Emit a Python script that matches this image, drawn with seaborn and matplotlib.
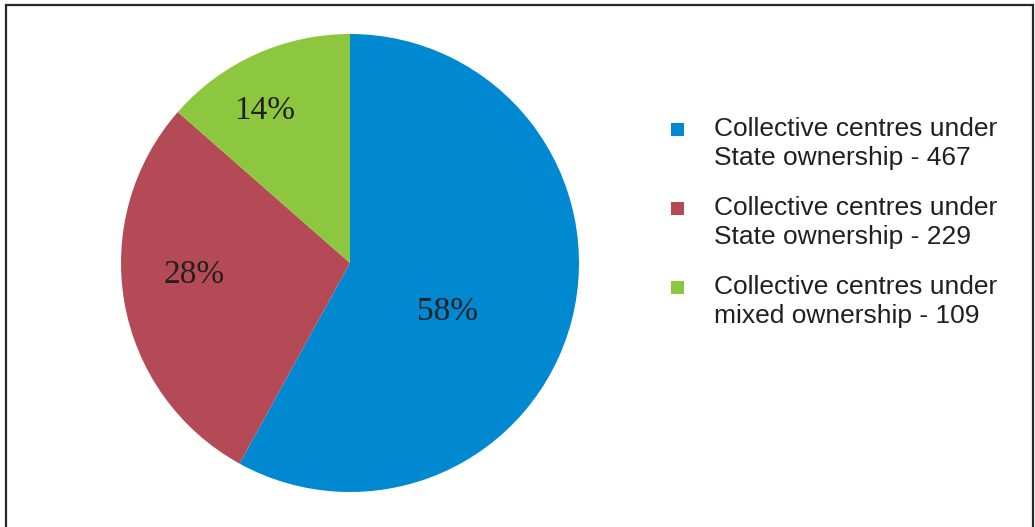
import matplotlib
matplotlib.use("Agg")
import matplotlib.pyplot as plt
from matplotlib.patches import Rectangle
import seaborn as sns

sns.set_theme(style="white")
plt.rcParams["font.family"] = ["Liberation Sans", "DejaVu Sans"]

# Collective centres by ownership type
categories = [
    "Collective centres under\nState ownership - 467",
    "Collective centres under\nState ownership - 229",
    "Collective centres under\nmixed ownership - 109",
]
counts = [467, 229, 109]
colors = ["#0088D1", "#B34A55", "#8DC63F"]

W, H = 1035, 527
fig = plt.figure(figsize=(W / 100, H / 100), dpi=100)
fig.patch.set_facecolor("white")

# pie axes: centre (350, 263) px, radius 229 px
cx, cy, r = 350, 263, 229
ax = fig.add_axes([(cx - r) / W, (H - cy - r) / H, 2 * r / W, 2 * r / H])
wedges, _, autotexts = ax.pie(
    counts,
    colors=colors,
    startangle=90,
    counterclock=False,
    autopct="%.0f%%",
    radius=1,
    wedgeprops=dict(linewidth=0),
    textprops=dict(family=["Liberation Serif", "DejaVu Serif"], fontsize=24,
                   color="#231f20"),
)
ax.set_xlim(-1, 1)
ax.set_ylim(-1, 1)
ax.set_aspect("equal")
ax.axis("off")

# percentage label placement inside the slices (data units, baseline anchored)
label_pos = [(0.424, -0.249), (-0.681, -0.087), (-0.371, 0.629)]
for t, (x, y) in zip(autotexts, label_pos):
    t.set_position((x, y))
    t.set_ha("center")
    t.set_va("baseline")

# legend: square markers beside two-line labels
text_x = 714 / W
first_base = 136
item_gap = 79
line_gap = 29
for i, (lab, col) in enumerate(zip(categories, colors)):
    base = first_base + i * item_gap
    fig.patches.append(Rectangle((671 / W, 1 - base / H), 13 / W, 13 / H,
                                 transform=fig.transFigure, facecolor=col,
                                 edgecolor="none"))
    for j, line in enumerate(lab.split("\n")):
        fig.text(text_x, 1 - (base + j * line_gap) / H, line, fontsize=19,
                 color="#231f20", ha="left", va="baseline")

# outer frame
fig.patches.append(Rectangle((6 / W, 1 - 530 / H), 1027 / W, 525 / H,
                             transform=fig.transFigure, facecolor="none",
                             edgecolor="#262626", linewidth=1.6))

fig.savefig("out.png", dpi=100)
